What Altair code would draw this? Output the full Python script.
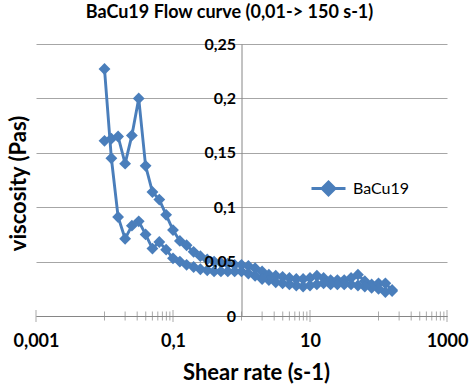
import altair as alt
import pandas as pd

# shear rate points (s-1), same for both ramps
shear_rate = [0.01, 0.0126, 0.0158, 0.02, 0.0251, 0.0316, 0.0398, 0.0501, 0.0631, 0.0794,
              0.1, 0.126, 0.158, 0.2, 0.251, 0.316, 0.398, 0.501, 0.631, 0.794,
              1.0, 1.26, 1.58, 2.0, 2.51, 3.16, 3.98, 5.01, 6.31, 7.94,
              10.0, 12.6, 15.8, 20.0, 25.1, 31.6, 39.8, 50.1, 63.1, 79.4,
              100.0, 126.0, 158.0]
# viscosity on the up ramp (Pas)
visc_up = [0.161, 0.163, 0.165, 0.140, 0.166, 0.200, 0.138, 0.114, 0.107, 0.093,
           0.079, 0.069, 0.065, 0.059, 0.055, 0.052, 0.050, 0.049, 0.048, 0.047,
           0.047, 0.046, 0.044, 0.041, 0.038, 0.037, 0.036, 0.035, 0.034, 0.034,
           0.035, 0.037, 0.035, 0.033, 0.033, 0.033, 0.035, 0.038, 0.032, 0.029,
           0.030, 0.030, 0.024]
# viscosity on the down ramp (Pas), listed by increasing shear rate
visc_down = [0.227, 0.145, 0.091, 0.071, 0.083, 0.087, 0.075, 0.062, 0.068, 0.061,
             0.053, 0.050, 0.047, 0.045, 0.043, 0.042, 0.041, 0.041, 0.041, 0.041,
             0.041, 0.039, 0.037, 0.034, 0.033, 0.031, 0.030, 0.029, 0.028, 0.027,
             0.028, 0.029, 0.030, 0.029, 0.029, 0.029, 0.029, 0.028, 0.027, 0.026,
             0.025, 0.022, 0.023]

x_major = [0.001, 0.1, 10, 1000]
x_minor = [0.01, 0.02, 0.03, 0.04, 0.05, 0.06, 0.07, 0.08, 0.09,
           1, 2, 3, 4, 5, 6, 7, 8, 9,
           100, 200, 300, 400, 500, 600, 700, 800, 900]
y_ticks = [0, 0.05, 0.1, 0.15, 0.2, 0.25]

rows = []
o = 0
for s, v in zip(shear_rate, visc_up):
    rows.append({"shear": s, "visc": v, "order": o, "series": "BaCu19"}); o += 1
for s, v in zip(reversed(shear_rate), reversed(visc_down)):
    rows.append({"shear": s, "visc": v, "order": o, "series": "BaCu19"}); o += 1
df = pd.DataFrame(rows)

W, H = 411, 272
BLUE = "#4A7EBB"
GRAY = "#868686"
FONT = "Lato"

xscale = alt.Scale(type="log", domain=[0.001, 1000])
yscale = alt.Scale(domain=[0, 0.25])

line = alt.Chart(df).mark_line(
    strokeWidth=2.9,
    point=alt.OverlayMarkDef(shape="diamond", size=140, filled=True, opacity=1),
).encode(
    x=alt.X("shear:Q", scale=xscale, axis=alt.Axis(
        values=x_major, labelExpr="replace(toString(datum.value), '.', ',')",
        grid=False, ticks=False, domainColor=GRAY, labelFlush=False,
        labelFont=FONT, labelFontWeight="bold", labelFontSize=18, labelColor="black",
        labelPadding=16, title="Shear rate (s-1)", titleFont=FONT, titleFontSize=22,
        titleFontWeight="bold", titleColor="black", titleX=220, titleY=56,
        titleBaseline="middle", titleAlign="center")),
    # grid + axis line, drawn behind the data
    y=alt.Y("visc:Q", scale=yscale, axis=alt.Axis(
        orient="left", values=y_ticks, offset=-W / 2, grid=True, gridColor="#A6A6A6",
        domainColor=GRAY, ticks=False, labels=False, title=None, zindex=0)),
    color=alt.Color("series:N", scale=alt.Scale(range=[BLUE]), legend=alt.Legend(
        title=None, orient="none", legendX=274, legendY=126,
        symbolType="M-1,0H1M0,-0.38L0.38,0L0,0.38L-0.38,0Z", symbolSize=1156,
        symbolStrokeWidth=2.9, symbolStrokeColor=BLUE, symbolFillColor=BLUE,
        labelFont=FONT, labelFontSize=16, labelColor="black", labelOffset=6)),
    order="order:Q",
)

# x-axis cross ticks; this layer also carries the y labels, drawn above the data
tick_major = alt.Chart(pd.DataFrame({"t": x_major})).mark_tick(
    orient="vertical", size=12, thickness=1, color=GRAY
).encode(
    x=alt.X("t:Q", scale=xscale),
    y=alt.Y(datum=0, scale=yscale, axis=alt.Axis(
        orient="left", values=y_ticks, labelExpr="replace(toString(datum.value), '.', ',')",
        offset=-W / 2, grid=False, domain=False, ticks=False, zindex=1,
        labelFont=FONT, labelFontWeight="bold", labelFontSize=16, labelColor="black",
        labelPadding=6, title="viscosity (Pas)", titleFont=FONT, titleFontSize=22,
        titleFontWeight="bold", titleColor="black", titleAngle=-90,
        titleX=-18 - W / 2, titleY=139, titleBaseline="middle", titleAlign="center")),
)

tick_minor = alt.Chart(pd.DataFrame({"t": x_minor})).mark_tick(
    orient="vertical", size=9, thickness=1, color=GRAY
).encode(x=alt.X("t:Q", scale=xscale), y=alt.Y(datum=0, scale=yscale, axis=None))

chart = alt.layer(line, tick_major, tick_minor).resolve_axis(y="independent").properties(
    width=W, height=H,
    autosize=alt.AutoSizeParams(type="none"),
    padding={"left": 36, "top": 44, "right": 24, "bottom": 71},
    title=alt.TitleParams("BaCu19 Flow curve (0,01-> 150 s-1)", font=FONT, fontSize=18,
                          fontWeight="bold", color="black", anchor="middle", dx=-12, offset=14),
).configure_view(stroke=None)

chart.save("out.html", embed_options={"renderer": "svg", "actions": False})
